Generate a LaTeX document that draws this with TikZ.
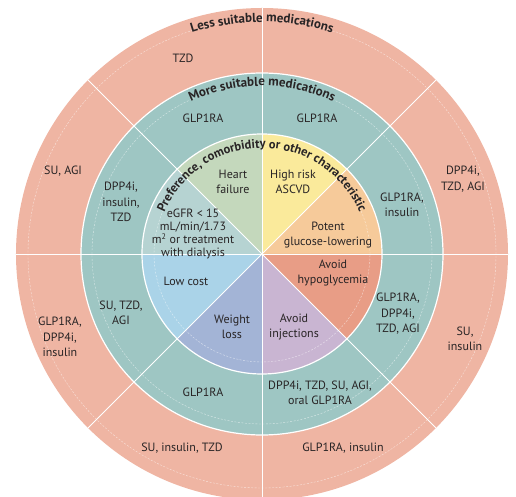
\documentclass[tikz,border=0pt]{standalone}
\usepackage{fontspec}
\setmainfont{PT Sans}
\usepackage{tikz}
\usetikzlibrary{decorations.text}
\definecolor{ringpink}{RGB}{239,181,163}
\definecolor{ringteal}{RGB}{158,198,195}
\definecolor{secheart}{RGB}{196,216,188}
\definecolor{secascvd}{RGB}{250,234,155}
\definecolor{secpotent}{RGB}{246,202,154}
\definecolor{sechypo}{RGB}{232,157,134}
\definecolor{secinject}{RGB}{201,181,210}
\definecolor{secweight}{RGB}{163,180,214}
\definecolor{seccost}{RGB}{170,211,232}
\definecolor{secegfr}{RGB}{182,211,210}
\definecolor{txtgray}{RGB}{40,36,37}

\begin{document}
\begin{tikzpicture}[
    x=1pt, y=1pt,
    lbl/.style={align=center, inner sep=0pt, text=txtgray, font=\fontsize{12}{15.5}\selectfont},
    spoke/.style={draw=white, line width=0.8pt},
    rim/.style={draw=white, line width=1.2pt},
    faint/.style={draw=white, opacity=0.6, line width=0.4pt, dash pattern=on 2pt off 1.5pt},
    arctitle/.style={decorate, decoration={text along path, text align=center, text color=txtgray, text={#1}}}
]
    \useasboundingbox (-262,-243) rectangle (254,254);

    % Outer ring
    \fill[ringpink] (0,0) circle[radius=246pt];
    \draw[faint] (0,0) circle[radius=234pt];

    % Middle ring
    \fill[ringteal] (0,0) circle[radius=181pt];
    \draw[faint] (0,0) circle[radius=170pt];

    % Inner sectors
    \fill[secpotent] (0,0) -- (0:120pt) arc[start angle=0, end angle=45, radius=120pt] -- cycle;
    \fill[secascvd] (0,0) -- (45:120pt) arc[start angle=45, end angle=90, radius=120pt] -- cycle;
    \fill[secheart] (0,0) -- (90:120pt) arc[start angle=90, end angle=135, radius=120pt] -- cycle;
    \fill[secegfr] (0,0) -- (135:120pt) arc[start angle=135, end angle=180, radius=120pt] -- cycle;
    \fill[seccost] (0,0) -- (180:120pt) arc[start angle=180, end angle=225, radius=120pt] -- cycle;
    \fill[secweight] (0,0) -- (225:120pt) arc[start angle=225, end angle=270, radius=120pt] -- cycle;
    \fill[secinject] (0,0) -- (270:120pt) arc[start angle=270, end angle=315, radius=120pt] -- cycle;
    \fill[sechypo] (0,0) -- (315:120pt) arc[start angle=315, end angle=360, radius=120pt] -- cycle;
    \draw[faint] (0,0) circle[radius=108pt];

    % Spokes and rims
    \draw[spoke] (90:246pt) -- (270:246pt);
    \draw[spoke] (0:246pt) -- (180:246pt);
    \draw[spoke] (45:246pt) -- (225:246pt);
    \draw[spoke] (135:246pt) -- (315:246pt);
    \draw[rim] (0,0) circle[radius=181pt];
    \draw[rim] (0,0) circle[radius=120pt];

    % Ring titles
    \path[arctitle={|\bfseries\fontsize{13}{15}\selectfont|Less suitable medications}]
        (150:232pt) arc[start angle=150, end angle=30, radius=232pt];
    \path[arctitle={|\bfseries\fontsize{13}{15}\selectfont|More suitable medications}]
        (150:168pt) arc[start angle=150, end angle=30, radius=168pt];
    \path[arctitle={|\bfseries\fontsize{12.5}{15}\selectfont|Preference, comorbidity or other characteristic}]
        (175:106pt) arc[start angle=175, end angle=5, radius=106pt];

    % Inner labels
    \node[lbl] (heart) at (-29,72) {Heart\\failure};
    \node[lbl] (ascvd) at (31,72) {High risk\\ASCVD};
    \node[lbl] (potent) at (66,19) {Potent\\glucose-lowering};
    \node[lbl] (hypo) at (71,-19) {Avoid\\hypoglycemia};
    \node[lbl] (inject) at (32,-73) {Avoid\\injections};
    \node[lbl] (weight) at (-30,-73) {Weight\\loss};
    \node[lbl] (cost) at (-76,-27) {Low cost};
    \node[lbl, font=\fontsize{12}{13.3}\selectfont] (egfr) at (-69,20) {eGFR < 15\\mL/min/1.73\\m\textsuperscript{2} or treatment\\with dialysis};

    % More suitable medications
    \node[lbl] (moreheart) at (-59,136) {GLP1RA};
    \node[lbl] (moreascvd) at (55,136) {GLP1RA};
    \node[lbl] (morepotent) at (140,49) {GLP1RA,\\insulin};
    \node[lbl] (morehypo) at (136,-60) {GLP1RA,\\DPP4i,\\TZD, AGI};
    \node[lbl] (moreinject) at (58,-139) {DPP4i, TZD, SU, AGI,\\oral GLP1RA};
    \node[lbl] (moreweight) at (-59,-138) {GLP1RA};
    \node[lbl] (morecost) at (-141,-59) {SU, TZD,\\AGI};
    \node[lbl] (moreegfr) at (-141,52) {DPP4i,\\insulin,\\TZD};

    % Less suitable medications
    \node[lbl] (lessheart) at (-79,196) {TZD};
    \node[lbl] (lesspotent) at (201,75) {DPP4i,\\TZD, AGI};
    \node[lbl] (lesshypo) at (203,-85) {SU,\\insulin};
    \node[lbl] (lessinject) at (81,-194) {GLP1RA, insulin};
    \node[lbl] (lessweight) at (-80,-194) {SU, insulin, TZD};
    \node[lbl] (lesscost) at (-202,-83) {GLP1RA,\\DPP4i,\\insulin};
    \node[lbl] (lessegfr) at (-199,83) {SU, AGI};
\end{tikzpicture}
\end{document}
